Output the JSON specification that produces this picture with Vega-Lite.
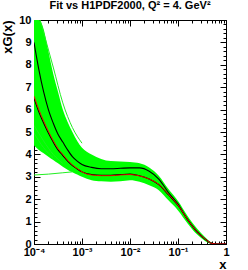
{
  "$schema": "https://vega.github.io/schema/vega-lite/v6.json",
  "width": 192,
  "height": 224,
  "autosize": "none",
  "padding": {"left": 34, "top": 20, "right": 22, "bottom": 26},
  "background": "white",
  "title": {"text": "Fit vs H1PDF2000, Q² = 4. GeV²", "font": "Liberation Sans", "fontWeight": "bold", "fontSize": 11, "anchor": "middle", "offset": 3, "color": "black"},
  "config": {
    "view": {"stroke": "black", "strokeWidth": 1},
    "axis": {"grid": false, "domainColor": "black", "tickColor": "black", "labelColor": "black", "titleColor": "black", "labelFont": "Liberation Sans", "labelFontWeight": "bold", "labelFontSize": 11, "titleFont": "Liberation Sans", "titleFontWeight": "bold", "titleFontSize": 13}
  },
  "datasets": {
    "curves": [
      {"x": 0.0001, "u": 9.0, "l": 6.5, "r": 6.6, "gu": 10, "gl": 4.4},
      {"x": 0.0001259, "u": 7.8, "l": 5.9, "r": 6.0, "gu": 10, "gl": 4.2},
      {"x": 0.0001585, "u": 6.8, "l": 5.4, "r": 5.5, "gu": 9.6, "gl": 4.05},
      {"x": 0.0001995, "u": 6.0, "l": 4.95, "r": 5.03, "gu": 8.6, "gl": 3.9},
      {"x": 0.0002512, "u": 5.4, "l": 4.55, "r": 4.62, "gu": 7.6, "gl": 3.75},
      {"x": 0.0003162, "u": 4.9, "l": 4.2, "r": 4.26, "gu": 6.8, "gl": 3.6},
      {"x": 0.0003981, "u": 4.55, "l": 3.95, "r": 4.0, "gu": 6.0, "gl": 3.45},
      {"x": 0.0005012, "u": 4.2, "l": 3.7, "r": 3.74, "gu": 5.45, "gl": 3.32},
      {"x": 0.000631, "u": 3.9, "l": 3.5, "r": 3.53, "gu": 5.0, "gl": 3.2},
      {"x": 0.0007943, "u": 3.7, "l": 3.35, "r": 3.37, "gu": 4.6, "gl": 3.1},
      {"x": 0.001, "u": 3.55, "l": 3.22, "r": 3.22, "gu": 4.3, "gl": 3.0},
      {"x": 0.001585, "u": 3.42, "l": 3.1, "r": 3.08, "gu": 4.0, "gl": 2.85},
      {"x": 0.002512, "u": 3.36, "l": 3.07, "r": 3.05, "gu": 3.8, "gl": 2.8},
      {"x": 0.003981, "u": 3.36, "l": 3.07, "r": 3.05, "gu": 3.7, "gl": 2.78},
      {"x": 0.00631, "u": 3.38, "l": 3.1, "r": 3.08, "gu": 3.68, "gl": 2.8},
      {"x": 0.01, "u": 3.4, "l": 3.12, "r": 3.1, "gu": 3.66, "gl": 2.85},
      {"x": 0.01585, "u": 3.4, "l": 3.05, "r": 3.04, "gu": 3.6, "gl": 2.78},
      {"x": 0.02512, "u": 3.25, "l": 2.9, "r": 2.9, "gu": 3.42, "gl": 2.62},
      {"x": 0.03981, "u": 2.9, "l": 2.65, "r": 2.66, "gu": 3.05, "gl": 2.4},
      {"x": 0.0631, "u": 2.3, "l": 2.2, "r": 2.22, "gu": 2.45, "gl": 1.95},
      {"x": 0.1, "u": 1.78, "l": 1.72, "r": 1.74, "gu": 1.92, "gl": 1.5},
      {"x": 0.1585, "u": 1.1, "l": 1.08, "r": 1.09, "gu": 1.25, "gl": 0.92},
      {"x": 0.2512, "u": 0.55, "l": 0.53, "r": 0.54, "gu": 0.68, "gl": 0.42},
      {"x": 0.3548, "u": 0.25, "l": 0.24, "r": 0.25, "gu": 0.34, "gl": 0.16},
      {"x": 0.5012, "u": 0.03, "l": 0.03, "r": 0.03, "gu": 0.07, "gl": 0.01},
      {"x": 0.631, "u": 0, "l": 0, "r": 0, "gu": 0.01, "gl": 0},
      {"x": 1, "u": 0, "l": 0, "r": 0, "gu": 0, "gl": 0}
    ],
    "outliers": [
      {"id": "a", "x": 0.0001, "y": 3.08},
      {"id": "a", "x": 0.0001995, "y": 3.12},
      {"id": "a", "x": 0.0003981, "y": 3.18},
      {"id": "a", "x": 0.000631, "y": 3.22},
      {"id": "b", "x": 0.0001, "y": 5.3},
      {"id": "b", "x": 0.0001585, "y": 4.6},
      {"id": "b", "x": 0.0002512, "y": 4.0},
      {"id": "b", "x": 0.0003981, "y": 3.6},
      {"id": "c", "x": 0.0001, "y": 4.95},
      {"id": "c", "x": 0.0001585, "y": 4.3},
      {"id": "c", "x": 0.0002512, "y": 3.85},
      {"id": "d", "x": 0.0001259, "y": 10.2},
      {"id": "d", "x": 0.0002512, "y": 7.9},
      {"id": "d", "x": 0.0003981, "y": 6.3},
      {"id": "d", "x": 0.000631, "y": 5.2},
      {"id": "d", "x": 0.001, "y": 4.5}
    ]
  },
  "resolve": {"axis": {"x": "independent", "y": "independent"}},
  "layer": [
    {
      "data": {"name": "curves"},
      "mark": {"type": "area", "color": "#00ff00", "interpolate": "monotone", "clip": true},
      "encoding": {
        "x": {"field": "x", "type": "quantitative", "scale": {"type": "log", "domain": [0.0001, 1], "nice": false},
          "axis": {"orient": "bottom", "title": "x", "titleAnchor": "end", "titleY": 24, "titleBaseline": "alphabetic",
            "values": [0.0001,0.0002,0.0003,0.0004,0.0005,0.0006,0.0007,0.0008,0.0009,0.001,0.002,0.003,0.004,0.005,0.006,0.007,0.008,0.009,0.01,0.02,0.03,0.04,0.05,0.06,0.07,0.08,0.09,0.1,0.2,0.3,0.4,0.5,0.6,0.7,0.8,0.9,1],
            "labelExpr": "datum.value == 0.0001 ? '10⁻⁴' : datum.value == 0.001 ? '10⁻³' : datum.value == 0.01 ? '10⁻²' : datum.value == 0.1 ? '10⁻¹' : datum.value == 1 ? '1' : ''",
            "tickSize": {"condition": {"test": "datum.value == 0.0001 || datum.value == 0.001 || datum.value == 0.01 || datum.value == 0.1 || datum.value == 1", "value": -6}, "value": -3},
            "labelPadding": 8, "labelFlush": false, "labelOverlap": false}},
        "y": {"field": "gu", "type": "quantitative", "scale": {"domain": [0, 10], "nice": false},
          "axis": {"orient": "left", "title": "xG(x)", "titleAnchor": "end", "titlePadding": 4,
            "values": [0,0.2,0.4,0.6,0.8,1,1.2,1.4,1.6,1.8,2,2.2,2.4,2.6,2.8,3,3.2,3.4,3.6,3.8,4,4.2,4.4,4.6,4.8,5,5.2,5.4,5.6,5.8,6,6.2,6.4,6.6,6.8,7,7.2,7.4,7.6,7.8,8,8.2,8.4,8.6,8.8,9,9.2,9.4,9.6,9.8,10],
            "labelExpr": "abs(datum.value - round(datum.value)) < 0.001 ? format(datum.value, 'd') : ''",
            "tickSize": {"condition": {"test": "abs(datum.value - round(datum.value)) < 0.001", "value": -6}, "value": -3},
            "labelPadding": 9, "labelOverlap": false}},
        "y2": {"field": "gl"}
      }
    },
    {
      "data": {"name": "outliers"},
      "mark": {"type": "line", "color": "#22ee22", "strokeWidth": 1, "interpolate": "monotone", "clip": true},
      "encoding": {
        "x": {"field": "x", "type": "quantitative", "scale": {"type": "log", "domain": [0.0001, 1], "nice": false}, "axis": null},
        "y": {"field": "y", "type": "quantitative", "scale": {"domain": [0, 10], "nice": false}, "axis": null},
        "detail": {"field": "id"}
      }
    },
    {
      "data": {"name": "curves"},
      "mark": {"type": "line", "color": "black", "strokeWidth": 1.1, "interpolate": "monotone", "clip": true},
      "encoding": {
        "x": {"field": "x", "type": "quantitative", "scale": {"type": "log", "domain": [0.0001, 1], "nice": false},
          "axis": {"orient": "top", "title": null, "labels": false,
            "values": [0.0001,0.0002,0.0003,0.0004,0.0005,0.0006,0.0007,0.0008,0.0009,0.001,0.002,0.003,0.004,0.005,0.006,0.007,0.008,0.009,0.01,0.02,0.03,0.04,0.05,0.06,0.07,0.08,0.09,0.1,0.2,0.3,0.4,0.5,0.6,0.7,0.8,0.9,1],
            "tickSize": {"condition": {"test": "datum.value == 0.0001 || datum.value == 0.001 || datum.value == 0.01 || datum.value == 0.1 || datum.value == 1", "value": -6}, "value": -3}}},
        "y": {"field": "u", "type": "quantitative", "scale": {"domain": [0, 10], "nice": false},
          "axis": {"orient": "right", "title": null, "labels": false,
            "values": [0,0.2,0.4,0.6,0.8,1,1.2,1.4,1.6,1.8,2,2.2,2.4,2.6,2.8,3,3.2,3.4,3.6,3.8,4,4.2,4.4,4.6,4.8,5,5.2,5.4,5.6,5.8,6,6.2,6.4,6.6,6.8,7,7.2,7.4,7.6,7.8,8,8.2,8.4,8.6,8.8,9,9.2,9.4,9.6,9.8,10],
            "tickSize": {"condition": {"test": "abs(datum.value - round(datum.value)) < 0.001", "value": -6}, "value": -3}}}
      }
    },
    {
      "data": {"name": "curves"},
      "mark": {"type": "line", "color": "black", "strokeWidth": 1.1, "interpolate": "monotone", "clip": true},
      "encoding": {
        "x": {"field": "x", "type": "quantitative", "scale": {"type": "log", "domain": [0.0001, 1], "nice": false}, "axis": null},
        "y": {"field": "l", "type": "quantitative", "scale": {"domain": [0, 10], "nice": false}, "axis": null}
      }
    },
    {
      "data": {"name": "curves"},
      "mark": {"type": "line", "color": "#ff0000", "strokeWidth": 0.9, "interpolate": "monotone", "clip": true},
      "encoding": {
        "x": {"field": "x", "type": "quantitative", "scale": {"type": "log", "domain": [0.0001, 1], "nice": false}, "axis": null},
        "y": {"field": "r", "type": "quantitative", "scale": {"domain": [0, 10], "nice": false}, "axis": null}
      }
    }
  ]
}
